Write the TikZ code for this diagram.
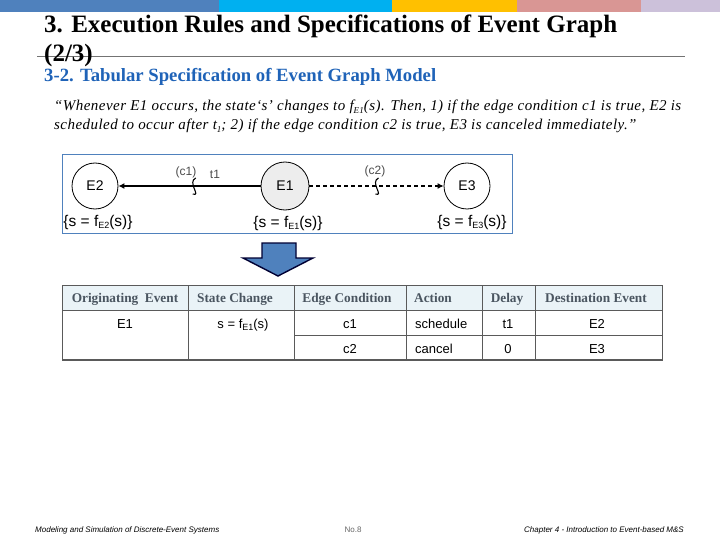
\documentclass[tikz,border=0pt]{standalone}
\usepackage{fontspec}
\usetikzlibrary{arrows.meta}
\setmainfont{Liberation Serif}
\setsansfont{Liberation Sans}
\definecolor{bandA}{HTML}{4F81BD}
\definecolor{bandB}{HTML}{00B0F0}
\definecolor{bandC}{HTML}{FFC000}
\definecolor{bandD}{HTML}{D99694}
\definecolor{bandE}{HTML}{CCC1DA}
\definecolor{subblue}{HTML}{1F63B8}
\definecolor{framecol}{HTML}{4F81BD}
\definecolor{headfill}{HTML}{EAF3F7}
\definecolor{headtext}{HTML}{4A5560}
\definecolor{tableline}{HTML}{5A5A5A}
\newcommand{\fsub}[1]{\raisebox{-2.5pt}{\fontsize{9}{9}\selectfont #1}}
\tikzstyle{eventnode}=[circle,draw=black,fill=white,thick,
                      inner sep=0pt,minimum size=46pt,font=\sffamily\fontsize{14}{14}\selectfont]
\tikzstyle{statetext}=[inner sep=0pt,anchor=base,font=\sffamily\fontsize{15.5}{15.5}\selectfont]
\tikzstyle{edgetext}=[inner sep=0pt,text=black!70,font=\sffamily\fontsize{12}{12}\selectfont]
\tikzstyle{headcell}=[inner sep=0pt,anchor=base,text=headtext,font=\bfseries\fontsize{13.3}{13.3}\selectfont]
\tikzstyle{bodycell}=[inner sep=0pt,anchor=base,font=\sffamily\fontsize{13}{13}\selectfont]
\tikzstyle{foottext}=[inner sep=0pt,anchor=base,font=\sffamily\fontsize{8}{8}\selectfont]
\tikzstyle{quotetext}=[anchor=base west,inner sep=0pt,
                      font=\itshape\fontsize{15}{15}\selectfont\addfontfeature{LetterSpace=3}]
\tikzstyle{edgeline}=[line width=1.1pt,-{Latex[length=6pt,width=6pt]}]
\begin{document}
\begin{tikzpicture}[x=1pt,y=-1pt]
    \useasboundingbox (0,0) rectangle (720,540);
    \fill[white] (0,0) rectangle (720,540);
    % band
    \fill[bandA] (0,0) rectangle (219,12);
    \fill[bandB] (219,0) rectangle (392,12);
    \fill[bandC] (392,0) rectangle (517,12);
    \fill[bandD] (517,0) rectangle (641,12);
    \fill[bandE] (641,0) rectangle (720,12);
    \draw[black!55] (37,56) -- (685,56);
    % heading
    \node (title1) at (44,33) [anchor=base west,inner sep=0pt,font=\bfseries\fontsize{25}{25}\selectfont]
      {3. Execution Rules and Specifications of Event Graph};
    \node (title2) at (44,62) [anchor=base west,inner sep=0pt,font=\bfseries\fontsize{25}{25}\selectfont] {(2/3)};
    \node (subtitle) at (44,82) [anchor=base west,inner sep=0pt,text=subblue,font=\bfseries\fontsize{18.7}{18.7}\selectfont]
      {3-2. Tabular Specification of Event Graph Model};
    \node (quote1) at (54,111) [quotetext]
      {``Whenever E1 occurs, the state`s' changes to f\fsub{E1}(s). Then, 1) if the edge condition c1 is true, E2 is};
    \node (quote2) at (54,130) [quotetext]
      {scheduled to occur after t\fsub{1}; 2) if the edge condition c2 is true, E3 is canceled immediately.''};
    % graph
    \draw[framecol,semithick] (62,154) rectangle (512,233);
    \node (e2) at (95,186) [eventnode]{E2};
    \node (e1) at (285,186) [eventnode,fill=black!7,minimum size=48pt]{E1};
    \node (e3) at (467,186) [eventnode]{E3};
    \draw[edgeline] (e1) -- (e2) coordinate[pos=0.47] (sq1);
    \draw[edgeline,dash pattern=on 4pt off 3pt] (e1) -- (e3) coordinate[pos=0.5] (sq2);
    \foreach \sq in {sq1,sq2}
      \draw[line width=1.1pt] ([shift={(2,-8)}]\sq) .. controls +(-9,4) and +(9,3) .. +(-3,16);
    \node (c1lab) at (186,172) [edgetext]{(c1)};
    \node (t1lab) at (215,174) [edgetext]{t1};
    \node (c2lab) at (375,171) [edgetext]{(c2)};
    \node (s2) at (98,226) [statetext]{\{s = f\fsub{E2}(s)\}};
    \node (s1) at (288,227) [statetext]{\{s = f\fsub{E1}(s)\}};
    \node (s3) at (472,226) [statetext]{\{s = f\fsub{E3}(s)\}};
    % block arrow
    \draw[fill=bandA,draw=black!80!blue,line width=1.4pt,line join=miter]
      (262,243) -- (296,243) -- (296,258) -- (313,258) -- (278,276)
      -- (243,258) -- (262,258) -- cycle;
    % table
    \fill[headfill] (62,285) rectangle (662,310);
    \draw[tableline] (62,285) rectangle (662,360);
    \draw[tableline,line width=1.5pt] (62,360) -- (662,360);
    \draw[tableline] (62,310) -- (662,310) (294,335) -- (662,335);
    \foreach \cx in {188,294,406,482,535}
      \draw[tableline] (\cx,285) -- (\cx,360);
    \foreach \cx/\nm/\txt in {125/hOrig/Originating\ \ Event,235/hState/State Change,347/hEdge/Edge Condition,
        433/hAct/Action,507/hDelay/Delay,596/hDest/Destination Event}
      \node (\nm) at (\cx,302) [headcell]{\txt};
    \node (cOrig) at (125,328) [bodycell]{E1};
    \node (cState) at (243,328) [bodycell]{s = f\fsub{E1}(s)};
    \foreach \cx/\nm/\txt in {350/cCa/c1,508/cTa/t1,597/cEa/E2}
      \node (\nm) at (\cx,328) [bodycell]{\txt};
    \foreach \cx/\nm/\txt in {350/cCb/c2,508/cTb/0,597/cEb/E3}
      \node (\nm) at (\cx,353) [bodycell]{\txt};
    \node (cSch) at (415,328) [bodycell,anchor=base west]{schedule};
    \node (cCan) at (415,353) [bodycell,anchor=base west]{cancel};
    % footer
    \node (footL) at (35,532) [foottext,anchor=base west]{\itshape Modeling and Simulation of Discrete-Event Systems};
    \node (footC) at (353,532) [foottext,text=black!60]{No.8};
    \node (footR) at (684,532) [foottext,anchor=base east]{\itshape Chapter 4 - Introduction to Event-based M\&S};
\end{tikzpicture}
\end{document}
